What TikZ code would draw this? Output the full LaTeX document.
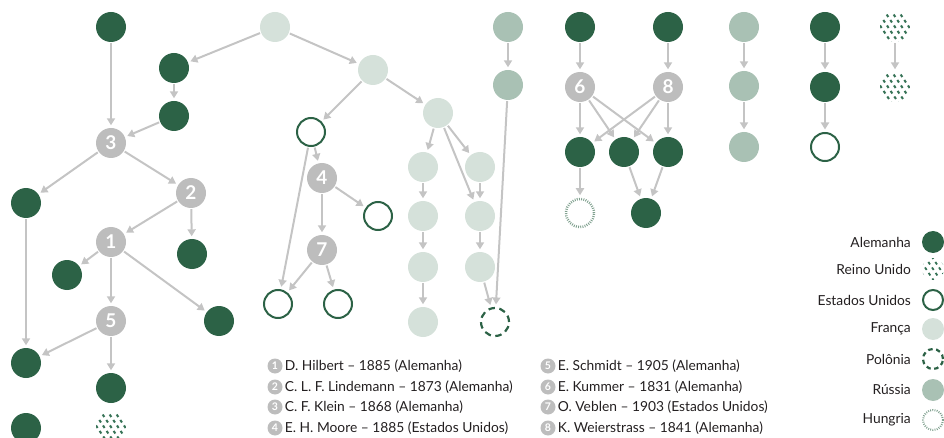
\documentclass[tikz,border=0pt]{standalone}
\usepackage{fontspec}
\setmainfont{Lato}
\usetikzlibrary{arrows.meta,calc}
\definecolor{ger}{HTML}{2C6246}
\definecolor{hatch}{HTML}{357255}
\definecolor{fra}{HTML}{D5E1DA}
\definecolor{rus}{HTML}{A9C1B4}
\definecolor{grayn}{HTML}{BDBDBD}
\definecolor{arr}{HTML}{C4C4C4}
\definecolor{hun}{HTML}{7FA08E}
\definecolor{txt}{HTML}{231F20}
\newcommand\ukfill[3]{%
  \begin{scope}
    \clip (#1.center) circle (#2);
    \foreach \k in {-4,...,4}{
      \draw[hatch, line width=#3, dash pattern=on 3pt off 3.6pt] ($(#1.center)+(\k*7-12,-18)$) -- ++(24,36);
    }
  \end{scope}}
\begin{document}
\begin{tikzpicture}[x=1pt,y=-1pt,
  base/.style={circle, inner sep=0pt, minimum size=30pt},
  ger/.style={base, fill=ger},
  fra/.style={base, fill=fra},
  rus/.style={base, fill=rus},
  usa/.style={base, draw=ger, line width=2pt, minimum size=28pt},
  pol/.style={base, draw=ger, line width=2.2pt, dash pattern=on 6.5pt off 4.5pt, minimum size=28pt},
  hun/.style={base, draw=hun, line width=2.5pt, dash pattern=on 0.9pt off 1.3pt, minimum size=28pt},
  ghost/.style={base},
  num/.style={base, fill=grayn, text=white, font=\bfseries\fontsize{19}{19}\selectfont},
  lnum/.style={circle, inner sep=0pt, minimum size=15pt, fill=grayn, text=white, font=\bfseries\fontsize{10.5}{10.5}\selectfont},
  ltext/.style={text=txt, inner sep=0pt, font=\fontsize{13.8}{15}\selectfont},
  arw/.style={draw=arr, line width=2pt, -{Triangle[length=7pt,width=8pt]}, shorten <=1pt, shorten >=2.5pt},
]
\useasboundingbox (0,0) rectangle (944,438);
% left tree
\node[ger] (A1) at (111,27) {};
\node[ger] (A2) at (174,68) {};
\node[ger] (A3) at (174,116) {};
\node[num] (n3) at (111,143) {3};
\node[ger] (A4) at (26,203) {};
\node[num] (n2) at (191,193) {2};
\node[num] (n1) at (111,242) {1};
\node[ger] (A5) at (192,254) {};
\node[ger] (A6) at (67,275) {};
\node[ger] (A7) at (219,321) {};
\node[num] (n5) at (111,321) {5};
\node[ger] (A8) at (26,363) {};
\node[ger] (A9) at (111,388) {};
\node[ger] (A10) at (26,428) {};
\node[ghost] (H1) at (111,427) {};
\ukfill{H1}{15pt}{2pt}
% middle
\node[fra] (F1) at (275,27) {};
\node[fra] (F2) at (373,70) {};
\node[fra] (F3) at (438,113) {};
\node[usa] (U1) at (311,132) {};
\node[num] (n4) at (322,178) {4};
\node[usa] (U2) at (378,216) {};
\node[num] (n7) at (322,250) {7};
\node[usa] (U3) at (278,304) {};
\node[usa] (U4) at (338,304) {};
\node[fra] (F4) at (423,167) {};
\node[fra] (F7) at (423,216) {};
\node[fra] (F8) at (423,267) {};
\node[fra] (F9) at (423,322) {};
\node[fra] (F5) at (480,167) {};
\node[fra] (F6) at (480,216) {};
\node[fra] (F10) at (480,267) {};
\node[pol] (P1) at (495,322) {};
\node[rus] (R1) at (508,27) {};
\node[rus] (R2) at (508,85) {};
% right
\node[ger] (G1) at (580,27) {};
\node[ger] (G2) at (668,27) {};
\node[num] (n6) at (580,87) {6};
\node[num] (n8) at (668,87) {8};
\node[ger] (G3) at (580,152) {};
\node[ger] (G4) at (624,152) {};
\node[ger] (G5) at (668,152) {};
\node[hun] (Hg1) at (580,213) {};
\node[ger] (G6) at (646,213) {};
\node[rus] (R3) at (744,27) {};
\node[rus] (R4) at (744,86) {};
\node[rus] (R5) at (744,147) {};
\node[ger] (G7) at (825,27) {};
\node[ger] (G8) at (825,87) {};
\node[usa] (U5) at (825,147) {};
\node[ghost] (H2) at (895,27) {};
\node[ghost] (H3) at (895,87) {};
\ukfill{H2}{15pt}{2pt}
\ukfill{H3}{15pt}{2pt}
% edges
\draw[arw] (A1) -- (n3);
\draw[arw] (F1) -- (A2);
\draw[arw] (A2) -- (A3);
\draw[arw] (A3) -- (n3);
\draw[arw] (n3) -- (A4);
\draw[arw] (n3) -- (n2);
\draw[arw] (n2) -- (n1);
\draw[arw] (n2) -- (A5);
\draw[arw] (n1) -- (A6);
\draw[arw] (n1) -- (n5);
\draw[arw] (n1) -- (A7);
\draw[arw] (n5) -- (A8);
\draw[arw] (n5) -- (A9);
\draw[arw] (A4) -- (A8);
\draw[arw] (F1) -- (F2);
\draw[arw] (F2) -- (U1);
\draw[arw] (F2) -- (F3);
\draw[arw] (U1) -- (n4);
\draw[arw] (U1) -- (U3);
\draw[arw] (n4) -- (U2);
\draw[arw] (n4) -- (n7);
\draw[arw] (n7) -- (U3);
\draw[arw] (n7) -- (U4);
\draw[arw] (F3) -- (F4);
\draw[arw] (F3) -- (F5);
\draw[arw] (F3) -- (F6);
\draw[arw] (F4) -- (F7);
\draw[arw] (F7) -- (F8);
\draw[arw] (F8) -- (F9);
\draw[arw] (F5) -- (F6);
\draw[arw] (F6) -- (F10);
\draw[arw] (F10) -- (P1);
\draw[arw] (R1) -- (R2);
\draw[arw] (R2) -- (P1);
\draw[arw] (G1) -- (n6);
\draw[arw] (G2) -- (n8);
\draw[arw] (n6) -- (G3);
\draw[arw] (n6) -- (G4);
\draw[arw] (n6) -- (G5);
\draw[arw] (n8) -- (G3);
\draw[arw] (n8) -- (G4);
\draw[arw] (n8) -- (G5);
\draw[arw] (G3) -- (Hg1);
\draw[arw] (G4) -- (G6);
\draw[arw] (G5) -- (G6);
\draw[arw] (R3) -- (R4);
\draw[arw] (R4) -- (R5);
\draw[arw] (G7) -- (G8);
\draw[arw] (G8) -- (U5);
\draw[arw] (H2) -- (H3);
% legend
\node[ger, minimum size=22pt] (L1) at (933,242) {};
\node[ghost, minimum size=22pt] (L2) at (933,269) {};
\ukfill{L2}{11pt}{1.8pt}
\node[usa, minimum size=20pt] (L3) at (933,300) {};
\node[fra, minimum size=22pt] (L4) at (933,329) {};
\node[pol, minimum size=20pt, dash pattern=on 4.5pt off 3.5pt] (L5) at (933,359) {};
\node[rus, minimum size=22pt] (L6) at (933,390) {};
\node[hun, minimum size=20pt, line width=2pt] (L7) at (933,420) {};
\node[ltext, anchor=east] (LT1) at (911,242) {Alemanha};
\node[ltext, anchor=east] (LT2) at (911,269) {Reino Unido};
\node[ltext, anchor=east] (LT3) at (911,300) {Estados Unidos};
\node[ltext, anchor=east] (LT4) at (911,329) {França};
\node[ltext, anchor=east] (LT5) at (911,359) {Polônia};
\node[ltext, anchor=east] (LT6) at (911,390) {Rússia};
\node[ltext, anchor=east] (LT7) at (911,420) {Hungria};
% list
\node[lnum] (k1) at (275,366) {1};
\node[lnum] (k2) at (275,387) {2};
\node[lnum] (k3) at (275,407) {3};
\node[lnum] (k4) at (275,428) {4};
\node[lnum] (k5) at (548,366) {5};
\node[lnum] (k6) at (548,387) {6};
\node[lnum] (k7) at (548,407) {7};
\node[lnum] (k8) at (548,428) {8};
\node[ltext, anchor=west] (t1) at ([xshift=2pt]k1.east) {D. Hilbert – 1885 (Alemanha)};
\node[ltext, anchor=west] (t2) at ([xshift=2pt]k2.east) {C. L. F. Lindemann – 1873 (Alemanha)};
\node[ltext, anchor=west] (t3) at ([xshift=2pt]k3.east) {C. F. Klein – 1868 (Alemanha)};
\node[ltext, anchor=west] (t4) at ([xshift=2pt]k4.east) {E. H. Moore – 1885 (Estados Unidos)};
\node[ltext, anchor=west] (t5) at ([xshift=2pt]k5.east) {E. Schmidt – 1905 (Alemanha)};
\node[ltext, anchor=west] (t6) at ([xshift=2pt]k6.east) {E. Kummer – 1831 (Alemanha)};
\node[ltext, anchor=west] (t7) at ([xshift=2pt]k7.east) {O. Veblen – 1903 (Estados Unidos)};
\node[ltext, anchor=west] (t8) at ([xshift=2pt]k8.east) {K. Weierstrass – 1841 (Alemanha)};
\end{tikzpicture}
\end{document}
